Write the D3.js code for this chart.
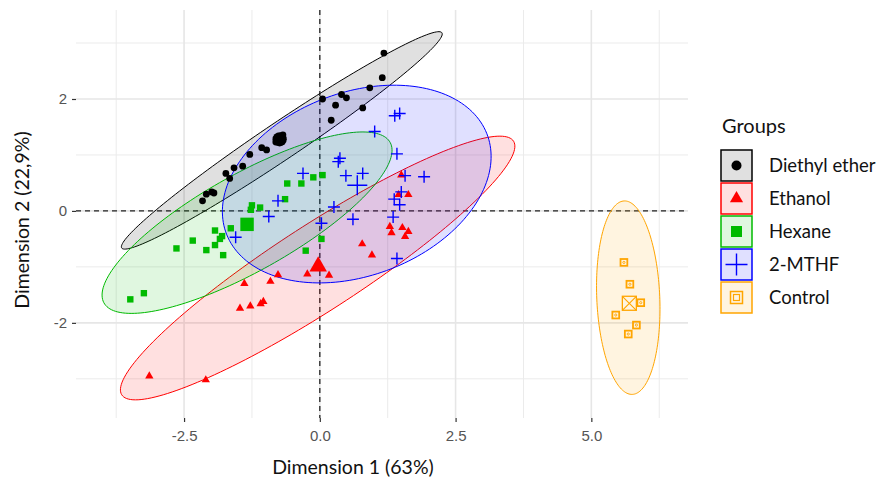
<!DOCTYPE html>
<html><head><meta charset="utf-8">
<script src="https://cdn.jsdelivr.net/npm/d3@7"></script>
<style>body{margin:0;background:#fff} svg{display:block}</style>
</head><body>
<svg id="c" width="878" height="483"></svg>
<script>
// ---------- data ----------
const groups = ["Diethyl ether", "Ethanol", "Hexane", "2-MTHF", "Control"];
const colors = ["#000000", "#FF0000", "#00BA00", "#0000FF", "#FFA500"];

const diethylEther = [[1.18,2.82],[1.15,2.38],[0.92,2.20],[0.40,2.08],[0.49,2.02],[0.05,2.00],[0.29,1.89],[0.79,1.84],[0.21,1.62],[-0.68,1.36],[-0.81,1.23],[-0.98,1.09],[-1.07,1.13],[-1.29,1.01],[-1.42,0.80],[-1.58,0.77],[-1.73,0.67],[-1.66,0.58],[-1.99,0.34],[-2.09,0.30],[-2.16,0.18],[-1.95,0.32]];
const ethanol = [[1.50,0.64],[1.45,0.29],[1.63,0.29],[1.29,-0.28],[1.32,-0.39],[1.52,-0.30],[1.63,-0.37],[1.57,-0.46],[0.78,-0.59],[0.96,-0.79],[-0.23,-1.13],[0.17,-1.15],[-0.77,-1.14],[-0.91,-1.26],[-1.39,-1.30],[-1.47,-1.74],[-1.28,-1.70],[-1.09,-1.66],[-1.04,-1.62],[-3.14,-2.95],[-2.10,-3.02]];
const hexane = [[0.05,0.64],[-0.12,0.60],[-0.34,0.49],[-0.60,0.49],[-0.64,0.21],[-1.25,0.10],[-1.10,0.06],[-1.27,0.02],[-1.64,-0.31],[-1.93,-0.35],[-1.80,-0.45],[-1.84,-0.50],[-1.93,-0.61],[-2.34,-0.53],[-2.64,-0.67],[-2.09,-0.70],[-1.78,-0.79],[0.03,-0.50],[-0.26,-0.71],[-3.49,-1.58],[-3.24,-1.47]];
const mthf = [[1.47,1.74],[1.38,1.70],[1.01,1.42],[1.42,1.02],[0.37,0.94],[0.34,0.88],[0.48,0.63],[0.79,0.67],[1.57,0.63],[1.92,0.61],[1.50,0.34],[1.37,0.21],[1.47,0.11],[0.26,0.07],[0.61,-0.15],[1.35,-0.11],[0.03,-0.22],[1.42,-0.85],[-0.31,0.67],[-0.77,0.18],[-0.94,-0.10],[-1.55,-0.47]];
const control = [[5.60,-0.92],[5.71,-1.31],[5.91,-1.64],[5.45,-1.86],[5.83,-2.04],[5.68,-2.20]];

const centroids = [[-0.74,1.28],[-0.03,-0.99],[-1.34,-0.24],[0.69,0.46],[5.70,-1.65]];

// confidence ellipses (center, semi-axes, rotation in degrees)
const ellipseCx    = [-0.70, -0.04, -1.34, 0.68, 5.68];
const ellipseCy    = [ 1.26, -1.02, -0.21, 0.48, -1.55];
const ellipseA     = [ 3.52,  4.26,  3.00, 2.56, 1.73];
const ellipseB     = [ 0.334, 0.77,  0.87, 1.64, 0.58];
const ellipseAngle = [33.1,  32.1,  28.45, 19.5, 92.5];

const xTicks = [-2.5, 0, 2.5, 5];
const xTickLabels = ["-2.5", "0.0", "2.5", "5.0"];
const xMinor = [-3.75, -1.25, 1.25, 3.75, 6.25];
const yTicks = [-2, 0, 2];
const yTickLabels = ["-2", "0", "2"];
const yMinor = [-3, -1, 1, 3];

const xTitle = "Dimension 1 (63%)";
const yTitle = "Dimension 2 (22,9%)";
const legendTitle = "Groups";

const groupPoints = [diethylEther, ethanol, hexane, mthf, control];

// ---------- layout ----------
const svg = d3.select("#c");
const L = 76, R = 688, T = 10, B = 418;
const x = d3.scaleLinear().domain([-4.49, 6.78]).range([L, R]);
const y = d3.scaleLinear().domain([-3.70, 3.59]).range([B, T]);

// grid
const grid = svg.append("g");
grid.selectAll(".xm").data(xMinor).join("line")
  .attr("x1", d => x(d)).attr("x2", d => x(d)).attr("y1", T).attr("y2", B)
  .attr("stroke", "#EBEBEB").attr("stroke-width", 1);
grid.selectAll(".ym").data(yMinor).join("line")
  .attr("y1", d => y(d)).attr("y2", d => y(d)).attr("x1", L).attr("x2", R)
  .attr("stroke", "#EBEBEB").attr("stroke-width", 1);
grid.selectAll(".xM").data(xTicks).join("line")
  .attr("x1", d => x(d)).attr("x2", d => x(d)).attr("y1", T).attr("y2", B)
  .attr("stroke", "#E6E6E6").attr("stroke-width", 1.6);
grid.selectAll(".yM").data(yTicks).join("line")
  .attr("y1", d => y(d)).attr("y2", d => y(d)).attr("x1", L).attr("x2", R)
  .attr("stroke", "#E6E6E6").attr("stroke-width", 1.6);

// axes
const xAxis = svg.append("g").attr("transform", `translate(0,${B})`)
  .call(d3.axisBottom(x).tickValues(xTicks).tickFormat((d, i) => xTickLabels[i]).tickSize(4).tickPadding(8));
const yAxis = svg.append("g").attr("transform", `translate(${L},0)`)
  .call(d3.axisLeft(y).tickValues(yTicks).tickFormat((d, i) => yTickLabels[i]).tickSize(4).tickPadding(5));
[xAxis, yAxis].forEach(a => {
  a.select(".domain").remove();
  a.selectAll(".tick line").attr("stroke", "#333").attr("stroke-width", 1.2);
  a.selectAll(".tick text").attr("fill", "#555").style("font-family", "'Liberation Sans', Arial, sans-serif").style("font-size", "15px");
});

// dashed reference lines
svg.append("line").attr("x1", x(0)).attr("x2", x(0)).attr("y1", T).attr("y2", B)
  .attr("stroke", "#222").attr("stroke-width", 1.3).attr("stroke-dasharray", "5,4");
svg.append("line").attr("y1", y(0)).attr("y2", y(0)).attr("x1", L).attr("x2", R)
  .attr("stroke", "#222").attr("stroke-width", 1.3).attr("stroke-dasharray", "5,4");

// ellipses
const line = d3.line().curve(d3.curveLinearClosed);
groups.forEach((g, i) => {
  const phi = ellipseAngle[i] * Math.PI / 180;
  const pts = d3.range(0, 360, 2).map(t => {
    const tt = t * Math.PI / 180;
    const ex = ellipseCx[i] + ellipseA[i] * Math.cos(tt) * Math.cos(phi) - ellipseB[i] * Math.sin(tt) * Math.sin(phi);
    const ey = ellipseCy[i] + ellipseA[i] * Math.cos(tt) * Math.sin(phi) + ellipseB[i] * Math.sin(tt) * Math.cos(phi);
    return [x(ex), y(ey)];
  });
  svg.append("path").attr("d", line(pts))
    .attr("fill", colors[i]).attr("fill-opacity", 0.12)
    .attr("stroke", colors[i]).attr("stroke-width", 1);
});

// markers
function drawMarker(sel, gi, cx, cy, big) {
  const c = colors[gi];
  const s = big ? 2.1 : 1;
  if (gi === 0) {
    sel.append("circle").attr("cx", cx).attr("cy", cy).attr("r", 3.4 * s).attr("fill", c);
  } else if (gi === 1) {
    sel.append("path").attr("transform", `translate(${cx},${cy})`)
      .attr("d", d3.symbol(d3.symbolTriangle, 30 * s * s)()).attr("fill", c);
  } else if (gi === 2) {
    const h = 3.2 * s;
    sel.append("rect").attr("x", cx - h).attr("y", cy - h).attr("width", 2 * h).attr("height", 2 * h).attr("fill", c);
  } else if (gi === 3) {
    const h = big ? 10 : 6;
    sel.append("path").attr("d", `M${cx - h},${cy}H${cx + h}M${cx},${cy - h}V${cy + h}`)
      .attr("stroke", c).attr("stroke-width", 1.4).attr("fill", "none");
  } else {
    const h = big ? 7 : 3.4;
    sel.append("rect").attr("x", cx - h).attr("y", cy - h).attr("width", 2 * h).attr("height", 2 * h)
      .attr("fill", "none").attr("stroke", c).attr("stroke-width", big ? 1.3 : 1.8);
    if (big) {
      sel.append("path").attr("d", `M${cx - h},${cy - h}L${cx + h},${cy + h}M${cx + h},${cy - h}L${cx - h},${cy + h}`)
        .attr("stroke", c).attr("stroke-width", 1.1);
    } else {
      sel.append("circle").attr("cx", cx).attr("cy", cy).attr("r", 1.1).attr("fill", "none").attr("stroke", c).attr("stroke-width", 0.9);
    }
  }
}
const pg = svg.append("g");
groupPoints.forEach((pts, gi) => {
  pts.forEach(p => drawMarker(pg, gi, x(p[0]), y(p[1]), false));
});
centroids.forEach((p, gi) => drawMarker(pg, gi, x(p[0]), y(p[1]), true));

// axis titles
const titleFont = "Lato, 'Open Sans', sans-serif";
svg.append("text").attr("x", 353).attr("y", 474).attr("text-anchor", "middle")
  .style("font-family", titleFont).style("font-size", "19.5px").attr("fill", "#111").text(xTitle);
svg.append("text").attr("transform", "translate(29,220) rotate(-90)").attr("text-anchor", "middle")
  .style("font-family", titleFont).style("font-size", "19.5px").attr("fill", "#111").text(yTitle);

// legend
const lg = svg.append("g");
lg.append("text").attr("x", 722).attr("y", 133).style("font-family", titleFont).style("font-size", "20px")
  .attr("fill", "#111").text(legendTitle);
groups.forEach((g, i) => {
  const ky = 150 + i * 33;
  lg.append("rect").attr("x", 721).attr("y", ky).attr("width", 31).attr("height", 31)
    .attr("fill", colors[i]).attr("fill-opacity", 0.12).attr("stroke", colors[i]).attr("stroke-width", 1.5);
  const cx = 736.5, cy = ky + 15.5;
  if (i === 0) lg.append("circle").attr("cx", cx).attr("cy", cy).attr("r", 5).attr("fill", colors[i]);
  else if (i === 1) lg.append("path").attr("transform", `translate(${cx},${cy})`).attr("d", d3.symbol(d3.symbolTriangle, 75)()).attr("fill", colors[i]);
  else if (i === 2) lg.append("rect").attr("x", cx - 5.5).attr("y", cy - 5.5).attr("width", 11).attr("height", 11).attr("fill", colors[i]);
  else if (i === 3) lg.append("path").attr("d", `M${cx - 11},${cy}H${cx + 11}M${cx},${cy - 11}V${cy + 11}`).attr("stroke", colors[i]).attr("stroke-width", 1.4);
  else {
    lg.append("rect").attr("x", cx - 6).attr("y", cy - 6).attr("width", 12).attr("height", 12).attr("fill", "none").attr("stroke", colors[i]).attr("stroke-width", 1.5);
    lg.append("rect").attr("x", cx - 3).attr("y", cy - 3).attr("width", 6).attr("height", 6).attr("fill", "none").attr("stroke", colors[i]).attr("stroke-width", 1.2);
  }
  lg.append("text").attr("x", 769).attr("y", cy + 6.5).style("font-family", titleFont).style("font-size", "18.5px")
    .attr("fill", "#111").text(g);
});
</script>
</body></html>
